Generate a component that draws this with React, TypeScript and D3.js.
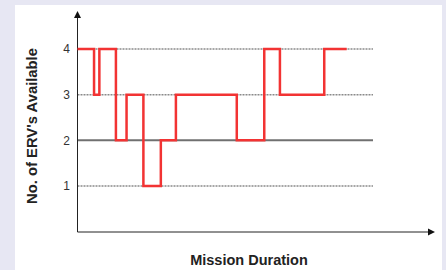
import React, { useEffect, useRef } from "react";
import * as d3 from "d3";

// mission time (arbitrary units) at which the number of ERVs changes
const stepTimes = [0, 5.6, 7.4, 13, 16.6, 22.3, 28.2, 33.3, 53.9, 63.2, 68.5, 83.5, 91.1];
const ervCounts = [4, 3, 4, 2, 3, 1, 2, 3, 2, 4, 3, 4, 4];
const yTicks = [1, 2, 3, 4];

export default function App() {
  const ref = useRef<SVGSVGElement>(null);
  const width = 446;
  const height = 270;

  useEffect(() => {
    const svg = d3.select(ref.current);
    svg.selectAll("*").remove();

    const x = d3.scaleLinear().domain([0, 100]).range([77.5, 373]);
    const y = d3.scaleLinear().domain([0, 4]).range([231.5, 49]);
    const font = "Arial, 'Liberation Sans', sans-serif";

    svg.append("rect").attr("width", width).attr("height", height).attr("fill", "#e7e7f3");
    svg.append("rect").attr("x", 15).attr("y", 5).attr("width", 427).attr("height", 265).attr("fill", "#fff");

    // grid lines
    svg
      .selectAll(".grid")
      .data(yTicks)
      .enter()
      .append("line")
      .attr("x1", x(0))
      .attr("x2", x(100))
      .attr("y1", (d) => y(d))
      .attr("y2", (d) => y(d))
      .attr("stroke", (d) => (d === 2 ? "#707070" : "#8a8a8a"))
      .attr("stroke-width", (d) => (d === 2 ? 2 : 1.5))
      .attr("stroke-dasharray", (d) => (d === 2 ? null : "2,1"));

    svg
      .selectAll(".tick")
      .data(yTicks)
      .enter()
      .append("text")
      .attr("x", 70)
      .attr("y", (d) => y(d) + 4.3)
      .attr("text-anchor", "end")
      .attr("font-family", font)
      .attr("font-size", 12)
      .attr("fill", "#333")
      .text((d) => d);

    // axes with arrows
    const x0 = x(0);
    const yBase = 232;
    svg.append("line").attr("x1", x0).attr("x2", x0).attr("y1", 16).attr("y2", yBase).attr("stroke", "#222").attr("stroke-width", 1);
    svg.append("line").attr("x1", x0).attr("x2", 430).attr("y1", yBase).attr("y2", yBase).attr("stroke", "#222").attr("stroke-width", 1);
    svg.append("path").attr("d", `M${x0},11L${x0 - 3.5},18L${x0 + 3.5},18Z`).attr("fill", "#111");
    svg.append("path").attr("d", `M435,${yBase}L428,${yBase - 3.5}L428,${yBase + 3.5}Z`).attr("fill", "#111");

    // step line
    const line = d3
      .line<number>()
      .x((d, i) => x(stepTimes[i]))
      .y((d) => y(d))
      .curve(d3.curveStepAfter);

    svg
      .append("path")
      .datum(ervCounts)
      .attr("d", line)
      .attr("fill", "none")
      .attr("stroke", "#f23333")
      .attr("stroke-width", 2.5);

    svg
      .append("text")
      .attr("transform", "translate(37,126) rotate(-90)")
      .attr("text-anchor", "middle")
      .attr("font-family", font)
      .attr("font-weight", "bold")
      .attr("font-size", 14.8)
      .attr("fill", "#222")
      .text("No. of ERV's Available");

    svg
      .append("text")
      .attr("x", 249)
      .attr("y", 265)
      .attr("text-anchor", "middle")
      .attr("font-family", font)
      .attr("font-weight", "bold")
      .attr("font-size", 14.5)
      .attr("fill", "#222")
      .text("Mission Duration");
  }, []);

  return (
    <div style={{ position: "absolute", left: 0, top: 0 }}>
      <svg ref={ref} width={width} height={height} style={{ display: "block" }} />
    </div>
  );
}
